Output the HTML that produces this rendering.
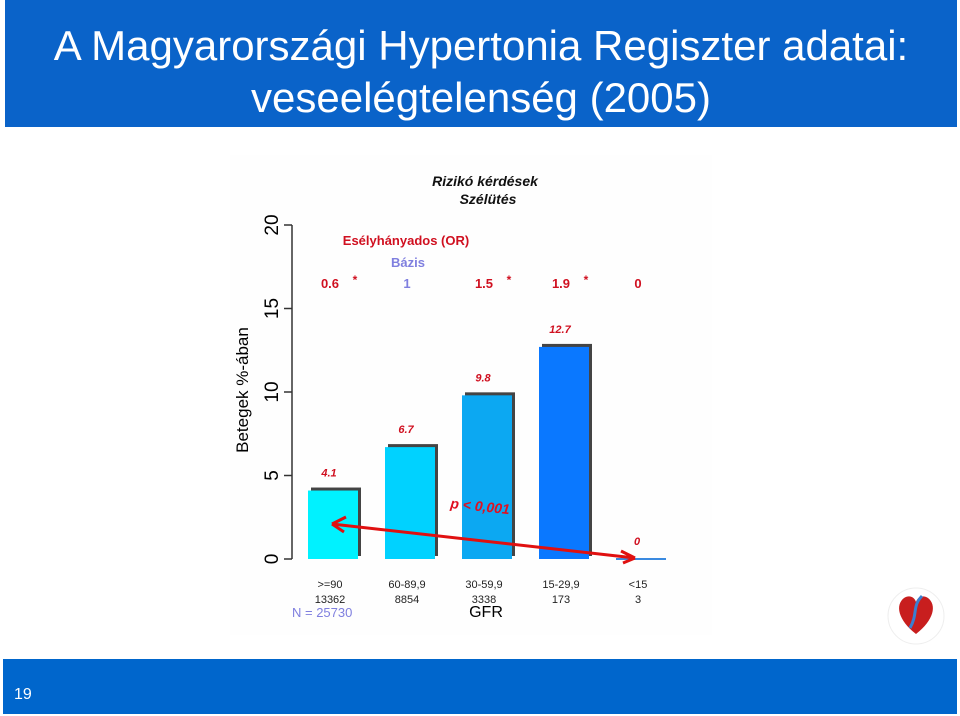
<!DOCTYPE html>
<html><head><meta charset="utf-8"><style>
html,body{margin:0;padding:0;width:960px;height:716px;overflow:hidden;background:#fff;font-family:"Liberation Sans",sans-serif}
#hdr{position:absolute;left:5px;top:0;width:952px;height:127px;background:#0a63c9;color:#fff;text-align:center;font-size:42px;line-height:52px}
#ftr{position:absolute;left:3px;top:659px;width:954px;height:55px;background:#0066cc}
#pg{position:absolute;left:14px;top:686px;font-size:16px;color:#fff}
svg{position:absolute;left:0;top:0}
</style></head><body>
<div id="hdr"><div style="padding-top:20px">A Magyarországi Hypertonia Regiszter adatai:</div><div>veseelégtelenség (2005)</div></div>
<svg width="960" height="716" id="chart">
<rect x="230" y="155" width="482" height="480" fill="#fefefe"/>
</svg>
<div id="ftr"></div>
<div id="pg">19</div>
<script>
const categories=[">=90","60-89,9","30-59,9","15-29,9","<15"];
const counts=["13362","8854","3338","173","3"];
const values=[4.1,6.7,9.8,12.7,0];
const valueLabels=["4.1","6.7","9.8","12.7","0"];
const orLabels=["0.6","1","1.5","1.9","0"];
const orStars=[true,false,true,true,false];
const yTicks=[0,5,10,15,20];
const colors=["#00f2ff","#00d2ff","#0ca8f2","#0a78ff","#3a8ae0"];
const NS="http://www.w3.org/2000/svg";
const svg=document.getElementById('chart');
const y=v=>559-v*16.7;
const x=i=>333+i*77;
function el(t,a,txt){const e=document.createElementNS(NS,t);for(const k in a)e.setAttribute(k,a[k]);if(txt!==undefined)e.textContent=txt;svg.appendChild(e);return e;}
let ax=el('line',{x1:292,y1:y(0),x2:292,y2:y(20),stroke:'#333','stroke-width':1.5});


yTicks.forEach(t=>{
 let l=el('line',{x1:284,x2:292,y1:y(t),y2:y(t),stroke:'#333','stroke-width':1.5});
 
 
 let tx=el('text',{x:278,y:y(t),'font-size':19,'text-anchor':'middle',transform:`rotate(-90 278 ${y(t)})`},String(t));
 
 
});
let yt=el('text',{x:248,y:390,'font-size':17,'text-anchor':'middle',transform:'rotate(-90 248 390)'},'Betegek %-ában');


values.forEach((v,i)=>{
 const cx=x(i);
 if(v>0){
  let s=el('rect',{x:cx-22,y:y(v)-3,width:50,height:y(0)-y(v),fill:'#444'});
  
  
  let b=el('rect',{x:cx-25,y:y(v),width:50,height:y(0)-y(v),fill:colors[i]});
  
  
 } else {
  let b=el('line',{x1:cx-25,x2:cx+25,y1:y(0),y2:y(0),stroke:colors[i],'stroke-width':2});
  
  
 }
 let vl=el('text',{x:cx-4,y:y(v)-14,'font-size':11,'font-weight':'bold','font-style':'italic',fill:'#d01020','text-anchor':'middle'},valueLabels[i]);
 
 
 let c=el('text',{x:cx-3,y:588,'font-size':11,'text-anchor':'middle',fill:'#222'},categories[i]);
 
 
 let n=el('text',{x:cx-3,y:603,'font-size':11,'text-anchor':'middle',fill:'#222'},counts[i]);
 
 
 let o=el('text',{x:cx-3,y:288,'font-size':13,'font-weight':'bold',fill:i==1?'#7f7fdf':'#d01020','text-anchor':'middle'},orLabels[i]);
 
 
 if(orStars[i]){let st=el('text',{x:cx+22,y:284,'font-size':12,'font-weight':'bold',fill:'#d01020','text-anchor':'middle'},'*');
 
 }
});
[['Rizikó kérdések',485,186,'#111',14,'italic','chart-title'],['Szélütés',488,204,'#111',14,'italic','chart-subtitle'],['Esélyhányados (OR)',406,245,'#d01020',13,'normal','or-heading'],['Bázis',408,267,'#7f7fdf',13,'normal','base-label']].forEach(a=>{
 let t=el('text',{x:a[1],y:a[2],fill:a[3],'font-size':a[4],'font-weight':'bold','font-style':a[5],'text-anchor':'middle'},a[0]);
 
 
});
let nn=el('text',{x:292,y:617,'font-size':13,fill:'#7f7fdf'},'N =  25730');


let g=el('text',{x:486,y:617,'font-size':16,'text-anchor':'middle'},'GFR');


let ar=el('path',{d:'M332,524 L635,558 M332,524 l14,-7 M332,524 l12,8 M635,558 l-14,-7 M635,558 l-12,5',stroke:'#e01010','stroke-width':3,fill:'none'});


let p=el('text',{x:450,y:508,'font-size':14,'font-weight':'bold','font-style':'italic',fill:'#e01020',transform:'rotate(6 450 508)'},'p < 0,001');


</script>
<svg width="960" height="716" style="pointer-events:none">
<circle cx="916" cy="616" r="28" fill="none" stroke="#eee" stroke-width="1"/>
<path d="M916,634 C898,620 895,605 904,598 C910,594 915,598 916,602 C917,598 922,594 928,598 C937,605 934,620 916,634Z" fill="#c81e1e"/>
<path d="M910,628 C918,614 912,606 922,596" stroke="#3a7fd0" stroke-width="3" fill="none"/>
</svg>
</body></html>
